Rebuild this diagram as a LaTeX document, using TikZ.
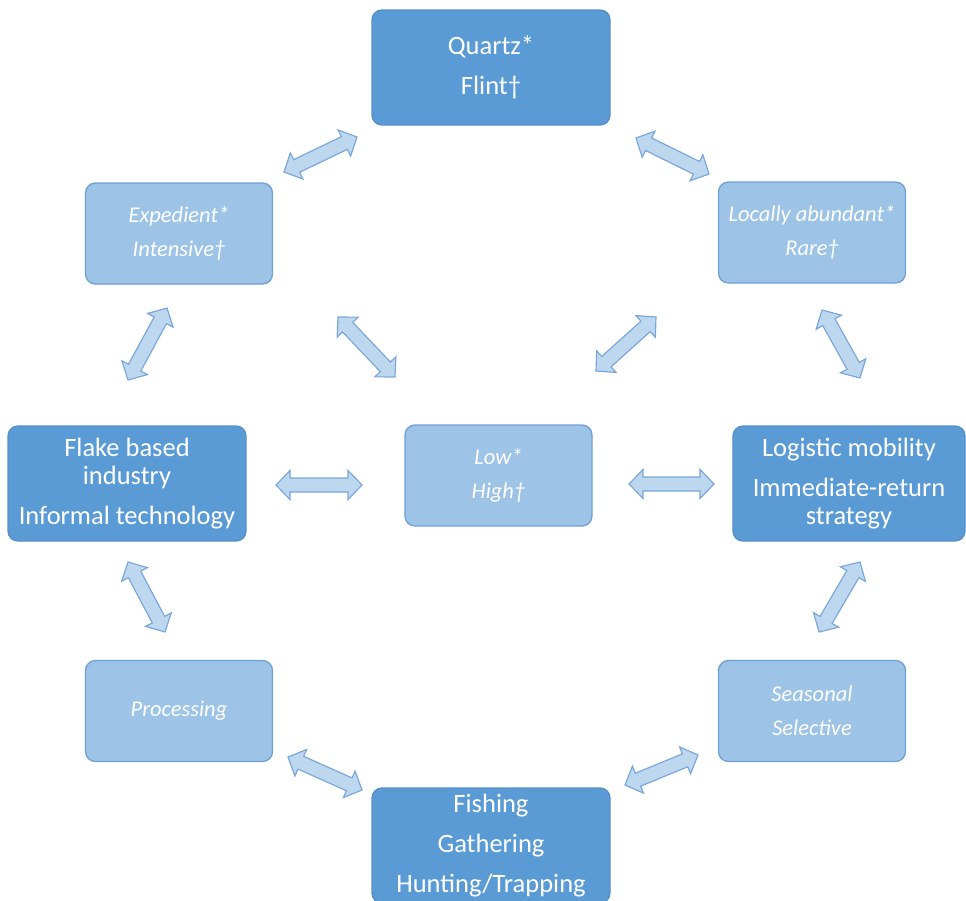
\documentclass[tikz,border=0pt]{standalone}
\usepackage{fontspec}
\setmainfont{Carlito}
\usetikzlibrary{calc}

\definecolor{darkbox}{HTML}{5B9BD5}
\definecolor{darkline}{HTML}{558FCB}
\definecolor{lightbox}{HTML}{9DC3E6}
\definecolor{lightline}{HTML}{6FA0D6}
\definecolor{arrowfill}{HTML}{BDD7EE}
\definecolor{arrowline}{HTML}{7AA7DB}

\newcommand{\arrhead}{8.4pt}
\newcommand{\arrwide}{8.7pt}
\newcommand{\arrshaft}{4.2pt}
% block arrow with a head at both ends
\newcommand{\link}[2]{%
  \draw[blockarrow] (#1)
    -- ($(#1)!\arrhead!(#2)!\arrwide!90:(#2)$)
    -- ($(#1)!\arrhead!(#2)!\arrshaft!90:(#2)$)
    -- ($(#2)!\arrhead!(#1)!\arrshaft!-90:(#1)$)
    -- ($(#2)!\arrhead!(#1)!\arrwide!-90:(#1)$)
    -- (#2)
    -- ($(#2)!\arrhead!(#1)!\arrwide!90:(#1)$)
    -- ($(#2)!\arrhead!(#1)!\arrshaft!90:(#1)$)
    -- ($(#1)!\arrhead!(#2)!\arrshaft!-90:(#2)$)
    -- ($(#1)!\arrhead!(#2)!\arrwide!-90:(#2)$)
    -- cycle;}

\begin{document}
\begin{tikzpicture}[x=0.6pt,y=-0.6pt,
  darknode/.style={rectangle,rounded corners=6pt,fill=darkbox,draw=darkline,line width=0.8pt,
    minimum width=142.8pt,minimum height=69pt,text=white,align=center,
    font=\fontsize{15.9}{16.8}\selectfont},
  lightnode/.style={rectangle,rounded corners=6pt,fill=lightbox,draw=lightline,line width=0.8pt,
    minimum width=112.2pt,minimum height=60.6pt,text=white,align=center,
    font=\fontsize{13.5}{20.4}\selectfont\itshape},
  blockarrow/.style={fill=arrowfill,draw=arrowline,line width=0.7pt,line join=miter}]
\clip (0,0) rectangle (966,900);
\fill[white] (0,0) rectangle (966,900);

% boxes
\node[darknode] (quartz) at (491,67.5) {Quartz*\\[7.2pt]Flint†};
\node[lightnode] (expedient) at (179,233.5) {Expedient*\\Intensive†};
\node[lightnode] (abundant) at (812,232.5) {Locally abundant*\\Rare†};
\node[darknode] (flake) at (127,483.5) {Flake based\\industry\\[7.2pt]Informal technology};
\node[lightnode] (low) at (498.5,475.5) {Low*\\High†};
\node[darknode,minimum width=139.2pt] (logistic) at (849,483.5) {Logistic mobility\\[7.2pt]Immediate-return\\strategy};
\node[lightnode] (processing) at (179,711) {Processing};
\node[lightnode] (seasonal) at (812,711) {Seasonal\\Selective};
\node[darknode] (fishing) at (491,845.5) {Fishing\\[7.2pt]Gathering\\[7.2pt]Hunting/Trapping};

% arrow ends
\coordinate (qe1) at (357,137); \coordinate (qe2) at (284,172);
\coordinate (qa1) at (636,138); \coordinate (qa2) at (709,174);
\coordinate (ef1) at (167,308); \coordinate (ef2) at (128,380);
\coordinate (el1) at (338,317); \coordinate (el2) at (395,377);
\coordinate (al1) at (656,317); \coordinate (al2) at (596,371);
\coordinate (ag1) at (822,310); \coordinate (ag2) at (860,378);
\coordinate (fl1) at (276,485); \coordinate (fl2) at (362,485);
\coordinate (lg1) at (629,484); \coordinate (lg2) at (714,484);
\coordinate (fp1) at (128,562); \coordinate (fp2) at (165,632);
\coordinate (gs1) at (860,562); \coordinate (gs2) at (819,632);
\coordinate (pf1) at (288,757); \coordinate (pf2) at (362,790);
\coordinate (sf1) at (698,755); \coordinate (sf2) at (625,785);

% arrows
\link{qe1}{qe2}
\link{qa1}{qa2}
\link{ef1}{ef2}
\link{el1}{el2}
\link{al1}{al2}
\link{ag1}{ag2}
\link{fl1}{fl2}
\link{lg1}{lg2}
\link{fp1}{fp2}
\link{gs1}{gs2}
\link{pf1}{pf2}
\link{sf1}{sf2}
\end{tikzpicture}
\end{document}
